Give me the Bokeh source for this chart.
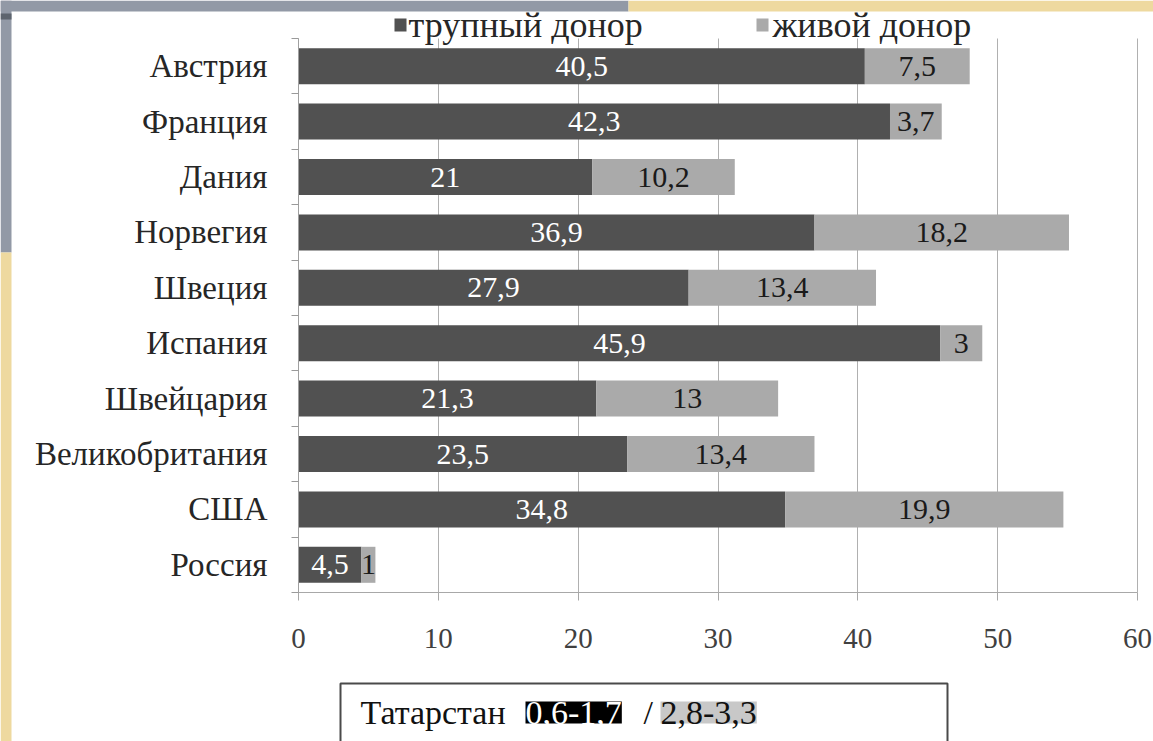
from bokeh.plotting import figure
from bokeh.models import (ColumnDataSource, FixedTicker, Label, BoxAnnotation, Range1d, Grid)
from bokeh.core.properties import value
from bokeh.embed import file_html
from bokeh.resources import INLINE

# ---- data ----
countries = ["Австрия", "Франция", "Дания", "Норвегия", "Швеция", "Испания",
             "Швейцария", "Великобритания", "США", "Россия"]
cadaver = [40.5, 42.3, 21, 36.9, 27.9, 45.9, 21.3, 23.5, 34.8, 4.5]
living = [7.5, 3.7, 10.2, 18.2, 13.4, 3, 13, 13.4, 19.9, 1]
series_names = ["трупный донор", "живой донор"]
x_ticks = [0, 10, 20, 30, 40, 50, 60]
tatarstan_name = "Татарстан"
tatarstan_cadaver = "0,6-1,7"
tatarstan_living = "2,8-3,3"

# ---- layout constants (canvas pixels) ----
W, H = 1153, 741
X0_PX, X60_PX = 298, 1137      # where 0 and 60 fall
YTOP_PX, YBOT_PX = 38, 592     # top / bottom of the row bands
XMAX, NROWS = 60, len(countries)
PX_X = (X60_PX - X0_PX) / XMAX
PX_Y = (YBOT_PX - YTOP_PX) / NROWS
SERIF = "Times New Roman, Liberation Serif, DejaVu Serif, serif"
DARK, LIGHT = "#515151", "#aaaaaa"


def sx2d(sx):
    return (sx - X0_PX) / PX_X


def sy2d(sy):
    return (YBOT_PX - sy) / PX_Y


def fmt(v):
    return f"{v:g}".replace(".", ",")


ypos = [NROWS - 1 - i + 0.5 for i in range(NROWS)]
src = ColumnDataSource(dict(
    y=ypos,
    cad=cadaver,
    total=[c + l for c, l in zip(cadaver, living)],
    cad_mid=[c / 2 for c in cadaver],
    liv_mid=[c + l / 2 for c, l in zip(cadaver, living)],
    cad_lab=[fmt(c) for c in cadaver],
    liv_lab=[fmt(l) for l in living],
))

p = figure(width=W, height=H,
           x_range=Range1d(sx2d(0), sx2d(W)), y_range=Range1d(sy2d(H), sy2d(0)),
           output_backend="svg", toolbar_location=None,
           min_border_left=0, min_border_right=0, min_border_top=0, min_border_bottom=0)
p.outline_line_color = None
p.background_fill_color = "white"
p.border_fill_color = "white"


def box(l, r, t, b, color, **kw):
    p.add_layout(BoxAnnotation(left=sx2d(l), right=sx2d(r), top=sy2d(t), bottom=sy2d(b),
                               fill_color=color, fill_alpha=1, **kw))


# slide background strips
GRAY, YELLOW = "#9299a6", "#eed99f"
for l, r, t, b, c in [(0, 628, 0, 11, GRAY), (628, W, 0, 11, YELLOW),
                      (0, 11, 0, 252, GRAY), (0, 11, 13, 19, "#5d646e"),
                      (0, 11, 252, H, YELLOW)]:
    box(l, r, t, b, c, line_color=None, level="underlay")

r1 = p.hbar(y="y", left=0, right="cad", height=0.65, source=src,
            fill_color=DARK, line_color=None)
r2 = p.hbar(y="y", left="cad", right="total", height=0.65, source=src,
            fill_color=LIGHT, line_color=None)

p.text(x="cad_mid", y="y", text="cad_lab", source=src, text_align="center",
       text_baseline="middle", text_color="white", text_font=value(SERIF),
       text_font_size="30px")
p.text(x="liv_mid", y="y", text="liv_lab", source=src, text_align="center",
       text_baseline="middle", text_color="#1a1a1a", text_font=value(SERIF),
       text_font_size="30px")

# grid (vertical lines only over the rows)
p.ygrid.visible = False
xg = p.xgrid[0]
xg.ticker = FixedTicker(ticks=x_ticks)
if "cross_bounds" in Grid.properties():
    xg.cross_bounds = (0, NROWS)
    xg.grid_line_color = "#b0b0b0"
else:
    xg.visible = False
    p.segment(x0=x_ticks, y0=[0] * len(x_ticks), x1=x_ticks, y1=[NROWS] * len(x_ticks),
              line_color="#b0b0b0", line_width=1, level="underlay")

# x axis at y = 0
xa = p.xaxis[0]
xa.fixed_location = 0
xa.bounds = (0, XMAX)
xa.ticker = FixedTicker(ticks=x_ticks)
xa.axis_line_color = "#a8a8a8"
xa.major_tick_line_color = "#a8a8a8"
xa.major_tick_out = 8
xa.major_tick_in = 0
xa.minor_tick_line_color = None
xa.major_label_standoff = 28
xa.major_label_text_font = SERIF
xa.major_label_text_font_size = "29px"
xa.major_label_text_color = "#404040"

# y axis at x = 0
ya = p.yaxis[0]
ya.fixed_location = 0
ya.bounds = (0, NROWS)
ya.ticker = FixedTicker(ticks=ypos, minor_ticks=list(range(NROWS + 1)))
ya.major_label_overrides = {y: c for y, c in zip(ypos, countries)}
ya.major_tick_line_color = None
ya.major_tick_out = 0
ya.major_tick_in = 0
ya.minor_tick_out = 7
ya.minor_tick_in = 0
ya.minor_tick_line_color = "#9a9a9a"
ya.axis_line_color = "#a0a0a0"
ya.major_label_standoff = 24
ya.major_label_text_font = SERIF
ya.major_label_text_font_size = "33px"
ya.major_label_text_color = "#262626"

# legend (squares + labels at the top)
LEG_Y = 24
for (sq_l, txt_x), color, name in zip([(394, 408), (756, 772)], [DARK, LIGHT], series_names):
    box(sq_l, sq_l + 12, 18, 31, color, line_color=None)
    p.add_layout(Label(x=sx2d(txt_x), y=sy2d(LEG_Y), text=name, text_align="left",
                       text_baseline="middle", text_font=SERIF, text_font_size="36px",
                       text_color="#262626"))

# Tatarstan box
box(340, 947, 683, H + 20, "white", line_color="#4a4a4a", line_alpha=1, line_width=2)
ty = sy2d(712)
p.add_layout(Label(x=sx2d(360), y=ty, text=tatarstan_name, text_align="left",
                   text_baseline="middle", text_font=SERIF, text_font_size="34px",
                   text_color="#111111"))
p.add_layout(Label(x=sx2d(525), y=ty, text=tatarstan_cadaver, text_align="left",
                   text_baseline="middle", text_font=SERIF, text_font_size="34px",
                   text_color="white", background_fill_color="black"))
p.add_layout(Label(x=sx2d(643), y=ty, text="/", text_align="left",
                   text_baseline="middle", text_font=SERIF, text_font_size="34px",
                   text_color="#111111"))
p.add_layout(Label(x=sx2d(660), y=ty, text=tatarstan_living, text_align="left",
                   text_baseline="middle", text_font=SERIF, text_font_size="34px",
                   text_color="#111111", background_fill_color="#c8c8c8"))

open("out.html", "w").write(file_html(p, INLINE))
